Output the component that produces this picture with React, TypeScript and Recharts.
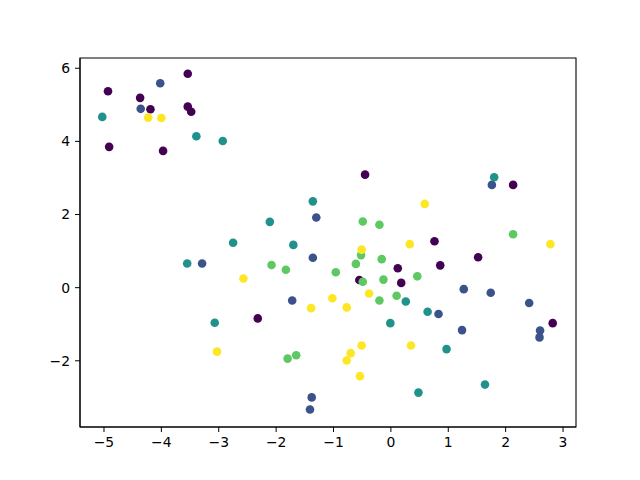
import { ReferenceArea, Scatter, ScatterChart, XAxis, YAxis } from 'recharts'

// five classes, viridis colours
const classColors = ['#440154', '#3b528b', '#21918c', '#5ec962', '#fde725']

const class0X = [-4.93, -3.54, -4.37, -4.19, -3.54, -3.48, -4.91, -3.97, -0.45, 0.12, -0.55, 0.18, 2.13, 0.76, 1.52, 0.86, 2.82, -2.32]
const class0Y = [5.37, 5.85, 5.19, 4.88, 4.95, 4.81, 3.85, 3.74, 3.09, 0.53, 0.21, 0.13, 2.81, 1.27, 0.83, 0.61, -0.97, -0.84]

const class1X = [-4.02, -4.36, -1.3, -1.36, -1.72, 1.76, 1.27, 1.74, 2.41, 2.6, 2.59, 0.83, 1.24, -1.38, -1.41, -3.29]
const class1Y = [5.59, 4.89, 1.92, 0.82, -0.35, 2.81, -0.04, -0.14, -0.42, -1.17, -1.36, -0.72, -1.16, -3.0, -3.33, 0.66]

const class2X = [-5.03, -3.39, -2.93, -1.36, -2.11, -1.7, 0.26, 1.8, 0.64, -0.01, 0.97, 1.64, 0.48, -3.07, -3.55, -2.75]
const class2Y = [4.67, 4.14, 4.01, 2.36, 1.8, 1.17, -0.38, 3.02, -0.66, -0.97, -1.68, -2.65, -2.87, -0.96, 0.66, 1.23]

const class3X = [-0.49, -0.2, -0.52, -0.16, -2.08, -0.61, -1.83, -0.96, -0.49, -0.13, 0.46, -0.2, 0.1, 2.13, -1.8, -1.65]
const class3Y = [1.81, 1.72, 0.89, 0.78, 0.62, 0.65, 0.49, 0.42, 0.16, 0.22, 0.31, -0.35, -0.22, 1.46, -1.94, -1.85]

const class4X = [-4.23, -4.0, 0.33, -0.51, -2.57, -0.38, -1.02, 0.59, 2.78, -0.77, -0.51, 0.35, -0.7, -0.77, -0.54, -1.39, -3.03]
const class4Y = [4.65, 4.64, 1.19, 1.04, 0.25, -0.16, -0.29, 2.29, 1.19, -0.54, -1.58, -1.58, -1.79, -1.99, -2.42, -0.56, -1.75]

const xTicks = [-5, -4, -3, -2, -1, 0, 1, 2, 3]
const yTicks = [-2, 0, 2, 4, 6]

const xDomain: [number, number] = [-5.418, 3.226]
const yDomain: [number, number] = [-3.81, 6.28]

const classes = [
  [class0X, class0Y],
  [class1X, class1Y],
  [class2X, class2Y],
  [class3X, class3Y],
  [class4X, class4Y],
]

const fmt = (v: number) => (v < 0 ? '\u2212' + Math.abs(v) : String(v))

const tickStyle = { fill: '#000', fontSize: 13.9, fontFamily: 'DejaVu Sans' }

export default function App() {
  return (
    <div style={{ position: 'absolute', left: 0, top: 0, background: '#fff' }}>
      <ScatterChart
        width={640}
        height={480}
        margin={{ top: 58, right: 64, bottom: 23, left: 40 }}
      >
        <XAxis
          type="number"
          dataKey="x"
          domain={xDomain}
          ticks={xTicks}
          tickFormatter={fmt}
          allowDataOverflow
          height={30}
          stroke="#000"
          tickSize={5}
          tickMargin={5}
          tick={tickStyle}
        />
        <YAxis
          type="number"
          dataKey="y"
          domain={yDomain}
          ticks={yTicks}
          tickFormatter={fmt}
          allowDataOverflow
          width={40}
          stroke="#000"
          tickSize={5}
          tickMargin={5}
          tick={tickStyle}
        />
        {classes.map(([xs, ys], i) => (
          <Scatter
            key={i}
            data={xs.map((x, j) => ({ x, y: ys[j] }))}
            fill={classColors[i]}
            isAnimationActive={false}
            shape={(p: any) => <circle cx={p.cx} cy={p.cy} r={4.3} fill={classColors[i]} />}
          />
        ))}
        {/* axes frame */}
        <ReferenceArea
          x1={xDomain[0]}
          x2={xDomain[1]}
          y1={yDomain[0]}
          y2={yDomain[1]}
          fill="none"
          stroke="#000"
          strokeWidth={1.1}
          ifOverflow="visible"
        />
      </ScatterChart>
    </div>
  )
}
